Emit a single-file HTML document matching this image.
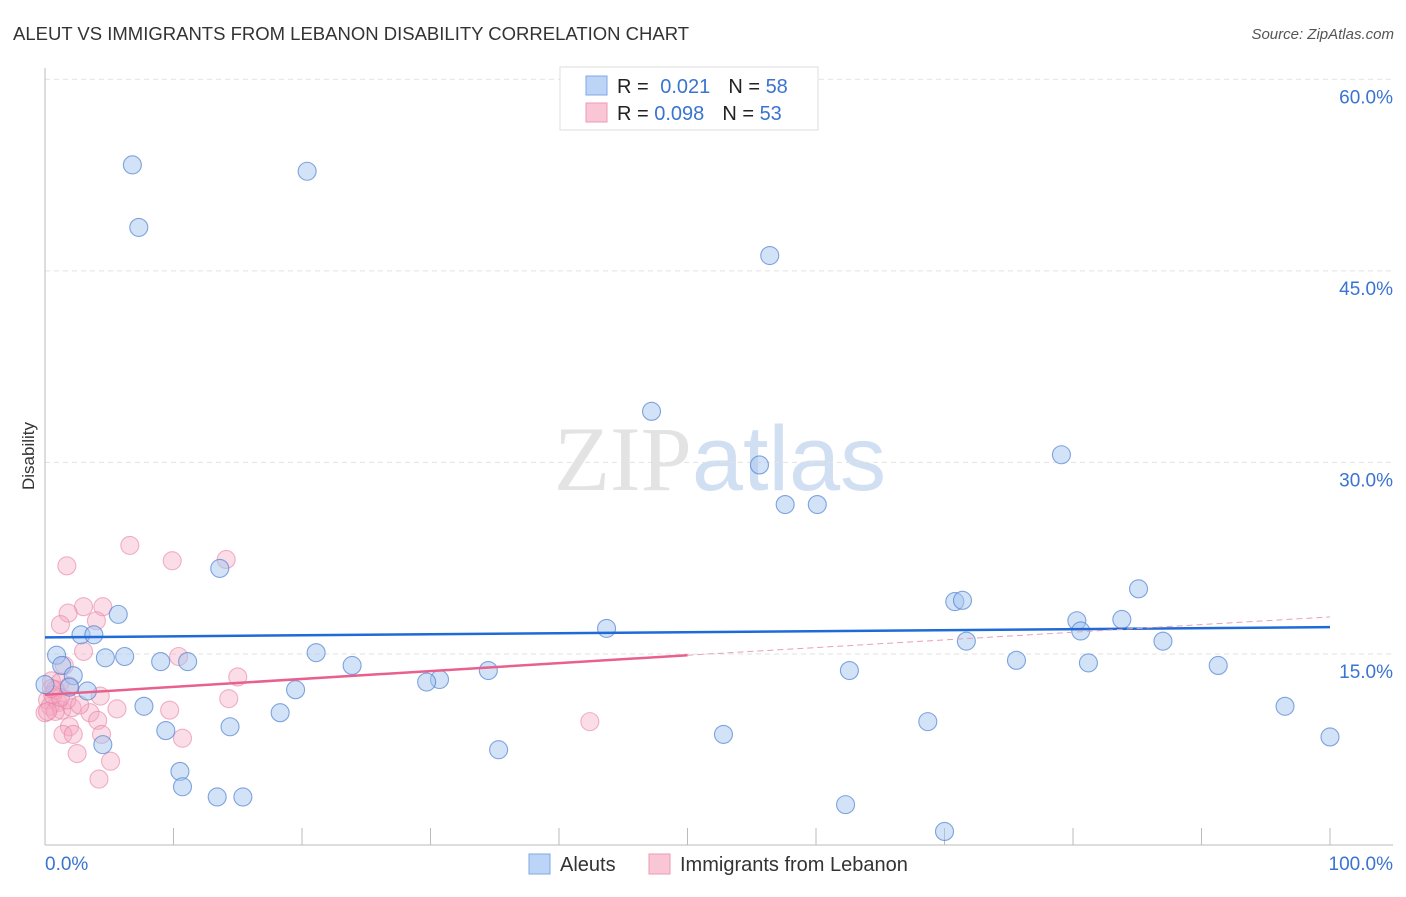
<!DOCTYPE html>
<html><head><meta charset="utf-8"><style>
body{margin:0;background:#fff;font-family:"Liberation Sans",sans-serif;}
svg text{font-family:"Liberation Sans",sans-serif;}
</style></head><body>
<svg id="chart" width="1406" height="892" xmlns="http://www.w3.org/2000/svg">
<text x="13" y="40" font-size="18.5" fill="#333">ALEUT VS IMMIGRANTS FROM LEBANON DISABILITY CORRELATION CHART</text>
<text x="1394" y="39" font-size="15" fill="#555" font-style="italic" text-anchor="end">Source: ZipAtlas.com</text>
<text x="720" y="490" font-size="92" text-anchor="middle" fill="#ddd" opacity="0.8"><tspan font-family="Liberation Serif">ZIP</tspan><tspan fill="#c5d8f0">atlas</tspan></text>
<text x="34" y="456" font-size="17" fill="#333" text-anchor="middle" transform="rotate(-90 34 456)">Disability</text>
<g id="grid"></g>
<g id="points"></g>
<g id="trends"></g>
<g>
<rect x="560" y="67" width="258" height="63" fill="#fff" stroke="#ddd"/>
<rect x="586" y="76" width="21" height="19" fill="#bcd4f5" stroke="#7ea8e6"/>
<rect x="586" y="103" width="21" height="19" fill="#f9c6d5" stroke="#ee9ab4"/>
<text x="617" y="93" font-size="20" fill="#222">R = <tspan fill="#3a74d0" dx="6">0.021</tspan><tspan fill="#222" dx="18">N = </tspan><tspan fill="#3a74d0">58</tspan></text>
<text x="617" y="120" font-size="20" fill="#222">R = <tspan fill="#3a74d0">0.098</tspan><tspan fill="#222" dx="18">N = </tspan><tspan fill="#3a74d0">53</tspan></text>
</g>
<g>
<rect x="529" y="854" width="21" height="20" fill="#bcd4f5" stroke="#7ea8e6"/>
<text x="560" y="871" font-size="20" fill="#333">Aleuts</text>
<rect x="649" y="854" width="21" height="20" fill="#f9c6d5" stroke="#ee9ab4"/>
<text x="680" y="871" font-size="20" fill="#333">Immigrants from Lebanon</text>
</g>
</svg>
<script>
const yTicks=[15,30,45,60];
const yTickLabels=["15.0%","30.0%","45.0%","60.0%"];
const xTicks=[0,10,20,30,40,50,60,70,80,90,100];
const aleutX=[6.8,20.4,7.3,56.4,47.2,55.6,79.1,57.6,60.1,13.6,5.7,85.1,70.8,71.4,43.7,80.3,83.8,80.6,2.8,3.8,71.7,87.0,0.9,6.2,4.7,21.1,9.0,11.1,1.3,23.9,75.6,81.2,91.3,34.5,62.6,2.2,30.7,29.7,1.9,3.3,19.5,7.7,96.5,18.3,68.7,9.4,14.4,52.8,100,4.5,35.3,10.5,10.7,13.4,15.4,62.3,70.0,0];
const aleutY=[53.3,52.8,48.4,46.2,34.0,29.8,30.6,26.7,26.7,21.7,18.1,20.1,19.1,19.2,17.0,17.6,17.7,16.8,16.5,16.5,16.0,16.0,14.9,14.8,14.7,15.1,14.4,14.4,14.1,14.1,14.5,14.3,14.1,13.7,13.7,13.3,13.0,12.8,12.4,12.1,12.2,10.9,10.9,10.4,9.7,9.0,9.3,8.7,8.5,7.9,7.5,5.8,4.6,3.8,3.8,3.2,1.1,12.6];
const lebX=[6.6,9.9,14.1,1.7,3.0,4.5,1.8,4.0,1.2,3.0,10.4,1.5,15.0,0.5,1.2,1.9,0.8,4.3,14.3,0.2,1.0,0.4,1.3,2.1,0,5.6,3.5,9.7,4.1,42.4,1.9,1.4,2.2,4.4,10.7,2.5,5.1,4.2,0.6,0.8,1.7,2.7,1.2,0.2,0.5];
const lebY=[23.5,22.3,22.4,21.9,18.7,18.7,18.2,17.6,17.3,15.2,14.8,14.1,13.2,12.9,12.8,12.5,12.2,11.7,11.5,11.4,11.2,10.9,10.6,10.8,10.4,10.7,10.4,10.6,9.8,9.7,9.3,8.7,8.7,8.7,8.4,7.2,6.6,5.2,11.8,10.5,11.4,11.0,11.6,10.5,12.3];
const aleutTrend=[16.3,17.1];
const lebTrend=[11.8,14.9,17.9];
const NS="http://www.w3.org/2000/svg";
const X=v=>45+v*12.85, Y=v=>845.5-v*12.77;
function mk(t,a,p){const e=document.createElementNS(NS,t);for(const k in a)e.setAttribute(k,a[k]);p.appendChild(e);return e;}
const grid=document.getElementById('grid');
yTicks.forEach((t,i)=>{
 const l=mk('line',{x1:45,x2:1393,y1:Y(t),y2:Y(t),stroke:'#e2e2e2','stroke-dasharray':'5,4'},grid);
 
 
 const tx=mk('text',{x:1393,y:Y(t)+24,'font-size':19,fill:'#3a74d0','text-anchor':'end'},grid);
 tx.textContent=yTickLabels[i];
 
 
});
mk('line',{x1:45,x2:45,y1:68,y2:845,stroke:'#bbb'},grid);
mk('line',{x1:45,x2:1393,y1:845,y2:845,stroke:'#bbb'},grid);
xTicks.forEach(t=>{const l=mk('line',{x1:X(t),x2:X(t),y1:828,y2:845,stroke:'#bbb'},grid);
 
 });
const x0=mk('text',{x:45,y:870,'font-size':19,fill:'#3a74d0'},grid);x0.textContent='0.0%';


const x1=mk('text',{x:1393,y:870,'font-size':19,fill:'#3a74d0','text-anchor':'end'},grid);x1.textContent='100.0%';


const pts=document.getElementById('points');
lebX.forEach((v,i)=>{const c=mk('circle',{cx:X(v),cy:Y(lebY[i]),r:9,fill:'rgba(245,165,192,0.38)',stroke:'rgba(232,130,165,0.6)','stroke-width':1.1},pts);
 
 });
aleutX.forEach((v,i)=>{const c=mk('circle',{cx:X(v),cy:Y(aleutY[i]),r:9,fill:'rgba(165,198,240,0.5)',stroke:'rgba(80,130,210,0.7)','stroke-width':1.1},pts);
 
 });
const tr=document.getElementById('trends');
const a=mk('line',{x1:X(0),y1:Y(aleutTrend[0]),x2:X(100),y2:Y(aleutTrend[1]),stroke:'#1f6ad6','stroke-width':2.5},tr);


const b=mk('line',{x1:X(0),y1:Y(lebTrend[0]),x2:X(50),y2:Y(lebTrend[1]),stroke:'#e8608c','stroke-width':2.5},tr);


const c=mk('line',{x1:X(50),y1:Y(lebTrend[1]),x2:X(100),y2:Y(lebTrend[2]),stroke:'#e8a0b8','stroke-width':1,'stroke-dasharray':'6,4'},tr);


</script>
</body></html>
